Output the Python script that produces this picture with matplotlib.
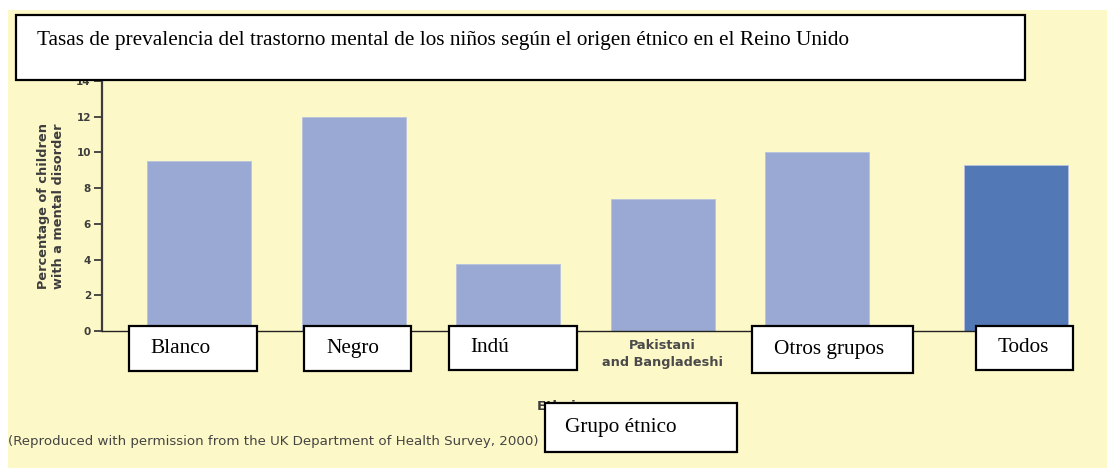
import matplotlib
matplotlib.use("Agg")
import matplotlib.pyplot as plt
from matplotlib.patches import Rectangle

# ---- data ----
categories = ["White", "Black", "Indian", "Pakistani\nand Bangladeshi", "Other", "All"]
values = [9.5, 12.0, 3.75, 7.4, 10.05, 9.3]
yticks = [0, 2, 4, 6, 8, 10, 12, 14]
overlay_labels = ["Blanco", "Negro", "Indú", None, "Otros grupos", "Todos"]
title_es = "Tasas de prevalencia del trastorno mental de los niños según el origen étnico en el Reino Unido"
xlabel_en = "Ethnic group"
xlabel_es = "Grupo étnico"
ylabel_en = "Percentage of children\nwith a mental disorder"
source = "(Reproduced with permission from the UK Department of Health Survey, 2000)"

# ---- style ----
W, H = 1107, 470
YELLOW = "#FDF8C7"
LIGHT = "#99A9D3"
DARK = "#5378B6"
GREY = "#3d3d3d"

fig = plt.figure(figsize=(W / 100, H / 100), dpi=100, facecolor="white")

def fx(x):
    return x / W

def fy(y):
    return 1 - y / H

# yellow backdrop
fig.add_artist(Rectangle((fx(8), fy(468)), fx(1107) - fx(8), fy(10) - fy(468),
                         transform=fig.transFigure, facecolor=YELLOW, edgecolor="none", zorder=-5))

ax = fig.add_axes([fx(102), fy(331), fx(1055) - fx(102), fy(81) - fy(331)])
ax.set_facecolor("none")

# positions: five evenly spaced groups, then a gap before "All"
pos = [0, 1, 2, 3, 4, 5.29]
colors = [LIGHT] * 5 + [DARK]
bars = ax.bar(pos, values, width=0.673, color=colors, edgecolor="#b8c3e0", linewidth=0.6, zorder=2)
for b in bars:
    b.set_clip_on(False)
ax.set_xlim(-0.628, 5.54)
ax.set_ylim(0, 14)
ax.set_yticks(yticks)
ax.set_yticklabels([str(t) for t in yticks], fontsize=7.5, fontweight="bold", color=GREY)
ax.tick_params(axis="y", length=6, width=1.3, color=GREY, pad=2)
ax.set_xticks([])
for s in ["top", "right"]:
    ax.spines[s].set_visible(False)
ax.spines["left"].set_linewidth(1.6)
ax.spines["left"].set_color(GREY)
ax.spines["bottom"].set_linewidth(1.0)
ax.spines["bottom"].set_color("#222222")

ax.set_ylabel(ylabel_en, fontsize=9.3, fontweight="bold", color=GREY, linespacing=1.2, labelpad=8)

# Pakistani label (original, not covered)
ax.text(pos[3], -0.45, categories[3], ha="center", va="top", fontsize=9.3, fontweight="bold",
        color="#4a4a4a", linespacing=1.35)

# english x label (mostly hidden by overlay box)
fig.text(fx(585), fy(400), xlabel_en, ha="center", va="top", fontsize=9.5, fontweight="bold", color=GREY)

# source note
fig.text(fx(8), fy(441), source, ha="left", va="center", fontsize=9.6, color="#444444")

serif = "Liberation Serif"

def box(x0, y0, x1, y1, text, tx, fs=15.3):
    fig.add_artist(Rectangle((fx(x0), fy(y1)), fx(x1) - fx(x0), fy(y0) - fy(y1),
                             transform=fig.transFigure, facecolor="white", edgecolor="black",
                             linewidth=1.6, zorder=5))
    fig.text(fx(tx), fy((y0 + y1) / 2), text, ha="left", va="center", fontsize=fs,
             family=serif, zorder=6)

# title overlay
fig.add_artist(Rectangle((fx(16), fy(80)), fx(1025) - fx(16), fy(15) - fy(80),
                         transform=fig.transFigure, facecolor="white", edgecolor="black",
                         linewidth=1.6, zorder=5))
fig.text(fx(37), fy(40), title_es, ha="left", va="center", fontsize=15.3, family=serif, zorder=6)

# category overlays
box_geom = [(129, 326, 257, 371, 150), (304, 326, 411, 371, 326), (449, 326, 577, 370, 470),
            None, (752, 326, 913, 373, 774), (976, 326, 1073, 370, 998)]
for g, lab in zip(box_geom, overlay_labels):
    if g is not None and lab is not None:
        box(g[0], g[1], g[2], g[3], lab, g[4])

box(545, 403, 737, 452, xlabel_es, 565)

fig.savefig("out.png", dpi=100, facecolor="white")
